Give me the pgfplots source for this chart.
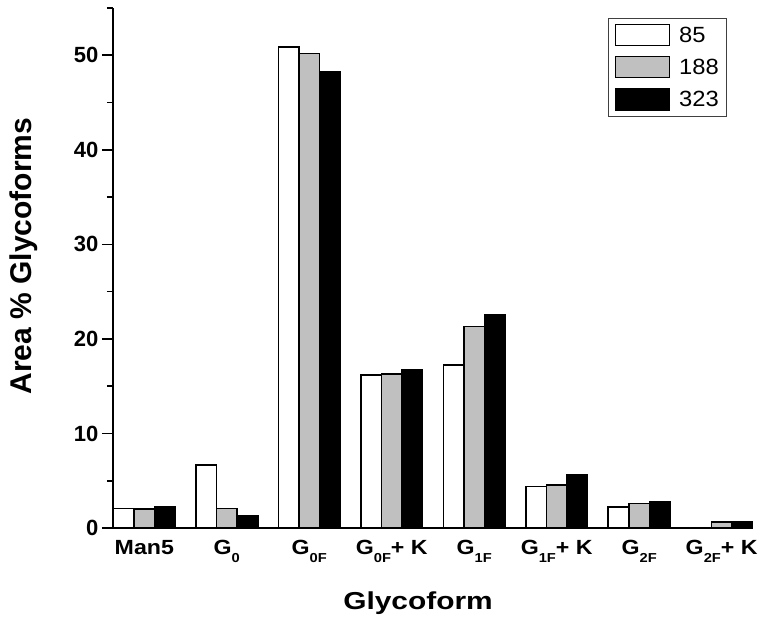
\documentclass[border=0pt]{standalone}
\usepackage{fontspec}
\setmainfont{Liberation Sans}
\newfontfamily\xfont[FakeStretch=1.13]{Liberation Sans}
\newfontfamily\xlfont[FakeStretch=1.22]{Liberation Sans}
\newfontfamily\lgfont[FakeStretch=1.08]{Liberation Sans}
\usepackage{pgfplots}
\pgfplotsset{compat=1.18}
\usepackage{pgfplotstable}
\definecolor{silver}{RGB}{192,192,192}
\newcommand{\sub}[1]{\raisebox{-8pt}{\fontsize{13}{13}\selectfont #1}}

\pgfplotstableread{
x a b c
0 2.08 1.98 2.25
1 6.67 2.08 1.30
2 50.9 50.2 48.3
3 16.16 16.26 16.72
4 17.25 21.3 22.5
5 4.37 4.55 5.58
6 2.22 2.61 2.78
7 0 0.63 0.65
}\data

\begin{document}
\begin{tikzpicture}
\begin{axis}[
  scale only axis,
  width=640pt, height=520pt,
  xmin=-0.38, xmax=7.38,
  ymin=0, ymax=55,
  axis x line*=bottom,
  axis y line*=left,
  axis line style={line width=2pt, black},
  xtick={0,...,7},
  xticklabels={Man5, G\sub{0}, G\sub{0F}, G\sub{0F}+ K, G\sub{1F}, G\sub{1F}+ K, G\sub{2F}, G\sub{2F}+ K},
  xtick style={draw=none},
  xticklabel style={font=\xfont\bfseries\fontsize{20.5}{24}\selectfont, anchor=base, yshift=-27pt},
  ytick={0,10,...,50},
  minor ytick={5,15,...,55},
  ytick align=outside,
  major tick length=11pt,
  minor tick length=6pt,
  ytick style={line width=1.6pt, black},
  minor tick style={line width=1.6pt, black},
  yticklabel style={font=\bfseries\fontsize{22}{26}\selectfont},
  /pgf/number format/assume math mode=true,
  xlabel={Glycoform},
  xlabel style={font=\xlfont\bfseries\fontsize{24.5}{28}\selectfont, at={(axis description cs:0.4766,-0.1558)}, anchor=base},
  ylabel={Area \% Glycoforms},
  ylabel style={font=\bfseries\fontsize{30}{34}\selectfont, at={(axis description cs:-0.127,0.523)}, anchor=base},
  legend style={at={(axis description cs:0.959,0.981)}, anchor=north east,
    draw=black!75, line width=0.8pt, inner xsep=6.5pt, inner ysep=5.5pt,
    font=\lgfont\fontsize{22}{26}\selectfont,
    nodes={inner sep=1pt}, row sep=9.5pt, column sep=8pt,
    cells={anchor=west}},
  legend image code/.code={\draw[#1] (0pt,-10.5pt) rectangle (54pt,10.5pt);},
]
\addplot[ybar, bar width=0.25, bar shift=-0.25, fill=white, draw=black, line width=1.6pt] table[x=x,y=a]{\data};
\addplot[ybar, bar width=0.25, bar shift=0, fill=silver, draw=black, line width=1.6pt] table[x=x,y=b]{\data};
\addplot[ybar, bar width=0.25, bar shift=0.25, fill=black, draw=black, line width=1.6pt] table[x=x,y=c]{\data};
\legend{85,188,323}
\coordinate (SW) at (rel axis cs:0,0);
\coordinate (NE) at (rel axis cs:1,1);
\end{axis}
\pgfresetboundingbox
\path ([xshift=-113pt,yshift=-100pt]SW) rectangle ([xshift=9pt,yshift=8pt]NE);
\end{tikzpicture}
\end{document}
